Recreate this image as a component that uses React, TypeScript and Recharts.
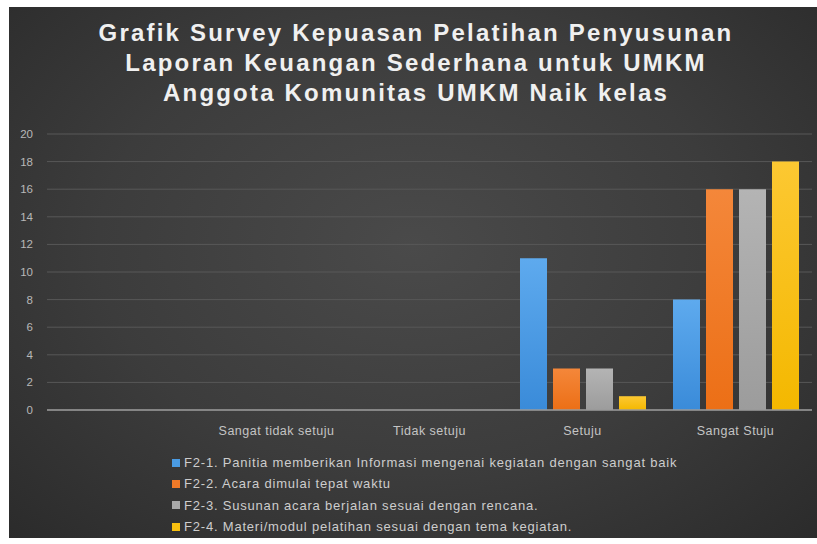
import React from "react"
import { Bar, BarChart, CartesianGrid, XAxis, YAxis } from "recharts"

const categories = ["", "Sangat tidak setuju", "Tidak setuju", "Setuju", "Sangat Stuju"]
const f21 = [0, 0, 0, 11, 8]
const f22 = [0, 0, 0, 3, 16]
const f23 = [0, 0, 0, 3, 16]
const f24 = [0, 0, 0, 1, 18]
const yTicks = [0, 2, 4, 6, 8, 10, 12, 14, 16, 18, 20]

const titleLines = [
    "Grafik Survey Kepuasan Pelatihan Penyusunan",
    "Laporan Keuangan Sederhana untuk UMKM",
    "Anggota Komunitas UMKM Naik kelas",
]

const series = [
    { key: "f21", name: "F2-1. Panitia memberikan Informasi mengenai kegiatan dengan sangat baik", top: "#5eaaee", bottom: "#3a8bd9", swatch: "#4a9be3" },
    { key: "f22", name: "F2-2. Acara dimulai tepat waktu", top: "#f4873a", bottom: "#ec6f16", swatch: "#f07a28" },
    { key: "f23", name: "F2-3. Susunan acara berjalan sesuai dengan rencana.", top: "#b4b4b4", bottom: "#9c9c9c", swatch: "#a8a8a8" },
    { key: "f24", name: "F2-4. Materi/modul pelatihan sesuai dengan tema kegiatan.", top: "#fcc832", bottom: "#f4b800", swatch: "#f8c010" },
]

const data = categories.map((c, i) => ({ name: c, f21: f21[i], f22: f22[i], f23: f23[i], f24: f24[i] }))

const font = "'Liberation Sans', Arial, sans-serif"

function LegendList() {
    return (
        <div style={{ fontFamily: font, fontSize: 13, letterSpacing: 0.8, color: "#cdcdcd" }}>
            {series.map((s) => (
                <div key={s.key} style={{ display: "flex", alignItems: "center", height: 21.3 }}>
                    <span style={{ width: 8, height: 8, background: s.swatch, marginRight: 4, display: "inline-block" }} />
                    {s.name}
                </div>
            ))}
        </div>
    )
}

export default function App() {
    return (
        <div style={{ position: "absolute", left: 0, top: 0, width: 817, height: 544, background: "#fff" }}>
            <div
                style={{
                    position: "absolute",
                    left: 9,
                    top: 7,
                    width: 808,
                    height: 531,
                    background: "radial-gradient(ellipse at 50% 45%, #4a4a4a 0%, #3c3c3c 55%, #2b2b2b 100%)",
                }}
            />
            <div
                style={{
                    position: "absolute",
                    left: 9,
                    top: 18,
                    width: 814,
                    textAlign: "center",
                    fontFamily: font,
                    fontWeight: "bold",
                    fontSize: 24,
                    letterSpacing: 2.2,
                    lineHeight: "30px",
                    color: "#f0f0f0",
                }}
            >
                {titleLines.map((t) => (
                    <div key={t}>{t}</div>
                ))}
            </div>
            <div style={{ position: "absolute", left: 0, top: 0 }}>
                <BarChart
                    width={817}
                    height={544}
                    data={data}
                    margin={{ top: 134, right: 5, bottom: 104, left: 0 }}
                    barSize={27}
                    barGap={6}
                >
                    <defs>
                        {series.map((s) => (
                            <linearGradient key={s.key} id={`g-${s.key}`} x1="0" y1="0" x2="0" y2="1">
                                <stop offset="0%" stopColor={s.top} />
                                <stop offset="100%" stopColor={s.bottom} />
                            </linearGradient>
                        ))}
                    </defs>
                    <CartesianGrid vertical={false} stroke="#585858" strokeWidth={1} />
                    <XAxis
                        dataKey="name"
                        tickLine={false}
                        axisLine={{ stroke: "#9a9a9a", strokeWidth: 1.5 }}
                        tick={{ fill: "#c4c4c4", fontSize: 12.5, fontFamily: font, letterSpacing: 0.5 }}
                        tickMargin={10}
                        height={30}
                        interval={0}
                    />
                    <YAxis
                        width={47}
                        domain={[0, 20]}
                        ticks={yTicks}
                        tickLine={false}
                        axisLine={false}
                        tick={{ fill: "#b8b8b8", fontSize: 11.5, fontFamily: font }}
                        tickMargin={8}
                    />
                    {series.map((s) => (
                        <Bar key={s.key} dataKey={s.key} name={s.name} fill={`url(#g-${s.key})`} isAnimationActive={false} />
                    ))}
                </BarChart>
            </div>
            <div style={{ position: "absolute", left: 172, top: 452 }}>
                <LegendList />
            </div>
        </div>
    )
}
